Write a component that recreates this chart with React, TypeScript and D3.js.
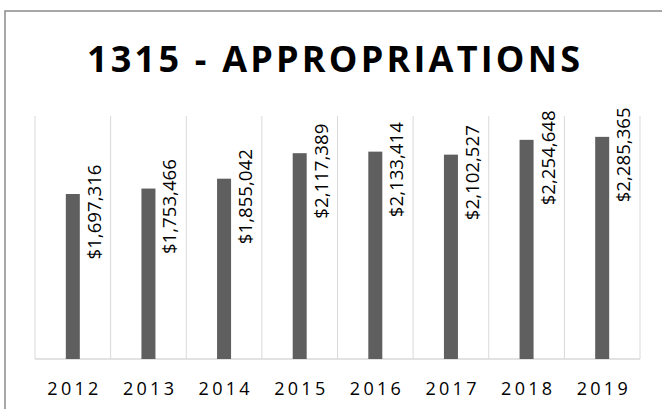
import React from "react";
import * as d3 from "d3";

const title = "1315 - APPROPRIATIONS";
const years = ["2012", "2013", "2014", "2015", "2016", "2017", "2018", "2019"];
const values = [1697316, 1753466, 1855042, 2117389, 2133414, 2102527, 2254648, 2285365];
const yMax = 2500000;

const W = 662;
const H = 409;
const plot = { left: 35, right: 640, top: 116, bottom: 359 };

export default function App() {
  const x = d3.scaleBand<string>().domain(years).range([plot.left, plot.right]).padding(0);
  const y = d3.scaleLinear().domain([0, yMax]).range([plot.bottom, plot.top]);
  const fmt = (v: number) => "$" + d3.format(",")(v);
  const bw = 14;
  const font = "'Open Sans', Calibri, Carlito, sans-serif";

  return (
    <svg
      width={W}
      height={H}
      style={{ position: "absolute", left: 0, top: 0, background: "#fff" }}
    >
      <rect x={0} y={0} width={W} height={H} fill="#fff" />
      <rect x={5} y={11} width={W + 10} height={H + 10} fill="none" stroke="#8a8a8a" strokeWidth={1.5} />
      <text
        x={(5 + W) / 2}
        y={72}
        textAnchor="middle"
        fontFamily={font}
        fontWeight="bold"
        fontSize={36}
        textLength={493}
        lengthAdjust="spacing"
        fill="#000"
      >
        {title}
      </text>
      {years.map((yr) => (
        <line
          key={"g" + yr}
          x1={x(yr)!}
          x2={x(yr)!}
          y1={plot.top}
          y2={plot.bottom}
          stroke="#d9d9d9"
          strokeWidth={1}
        />
      ))}
      <line x1={plot.right} x2={plot.right} y1={plot.top} y2={plot.bottom} stroke="#d9d9d9" strokeWidth={1} />
      <line x1={plot.left} x2={plot.right} y1={plot.bottom} y2={plot.bottom} stroke="#d9d9d9" strokeWidth={1.5} />
      {years.map((yr, i) => {
        const cx = x(yr)! + x.bandwidth() / 2;
        const top = y(values[i]);
        return (
          <g key={yr}>
            <rect x={cx - bw / 2} y={top} width={bw} height={plot.bottom - top} fill="#5f5f5f" />
            <text
              transform={`translate(${cx + 21},${top + 18}) rotate(-90)`}
              textAnchor="middle"
              dominantBaseline="central"
              fontFamily={font}
              fontSize={17.5}
              textLength={95}
              lengthAdjust="spacingAndGlyphs"
              fill="#000"
            >
              {fmt(values[i])}
            </text>
            <text
              x={cx}
              y={395}
              textAnchor="middle"
              fontFamily={font}
              fontSize={18}
              textLength={51}
              lengthAdjust="spacing"
              fill="#000"
            >
              {yr}
            </text>
          </g>
        );
      })}
    </svg>
  );
}
